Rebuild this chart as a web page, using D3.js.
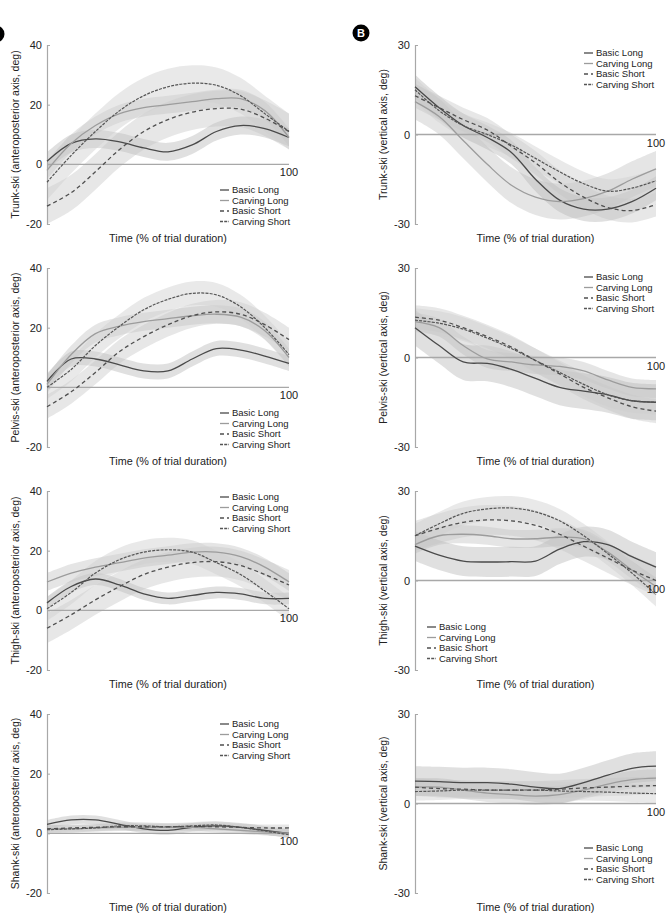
<!DOCTYPE html>
<html><head><meta charset="utf-8">
<script src="https://cdn.jsdelivr.net/npm/d3@7"></script>
<style>body{margin:0;background:#fff}svg{display:block}text{font-family:"Liberation Sans",Arial,sans-serif;fill:#222}</style>
</head><body>
<svg id="c" width="666" height="919"></svg>
<script>
const timePct = [0,10,20,30,40,50,60,70,80,90,100];
const seriesNames = ["Basic Long","Carving Long","Basic Short","Carving Short"];
const leftTicks = [-20,0,20,40];
const rightTicks = [-30,0,30];

// means per series (Basic Long, Carving Long, Basic Short, Carving Short)
const trunkAP = [
  [1,7,8.5,7.5,5.5,4.2,6.5,11,13,12,9],
  [-2,7,13,17,19,20,21,22,22,18,9],
  [-14,-9.5,-2.5,5,11,15,17.5,18.7,18.5,15.5,11],
  [-6,3,11,18,23,26,27.2,26.5,23,17,11]];
const trunkAPsd = [3,3,6,6];
const trunkV = [
  [16,9,3,-1,-6,-15,-22,-25,-25,-22.5,-18],
  [11,6,-2,-10,-17,-21,-22.5,-21.5,-19,-15,-11.5],
  [13,9,5,1.5,-4,-9.5,-16,-21,-24.5,-25.5,-23.5],
  [15,8,3,0,-3.5,-8,-12.5,-16.5,-19,-18,-15.5]];
const trunkVsd = [4,6,4,4];
const pelvisAP = [
  [2,9.5,9.5,7.5,5.5,5.5,9.5,13,12.5,10.5,8],
  [1,11,18,20.5,22,23,24,24.5,23.5,19,10],
  [-6.5,-1.5,5,12,17,21,24,25.3,24.5,21,16],
  [0,6,14,20.5,26,29.5,31.5,31,27,20,11]];
const pelvisAPsd = [2.5,3,4,4];
const pelvisV = [
  [10,4,-1.5,-2,-4,-7,-10,-11.3,-12.5,-14.5,-15],
  [12,10,4,-0.5,-1.5,-2.5,-3,-4.5,-7.5,-10,-10.5],
  [13.5,12.5,10,7,3.5,-1,-5.5,-10,-13.5,-16.5,-18],
  [12.5,11.5,9.5,6.5,3,-1,-5,-9,-12.5,-14.5,-15]];
const pelvisVsd = [6,3,4,4];
const thighAP = [
  [2.5,8,10.5,8.5,5.5,4,5,6,5.5,4,4],
  [9.5,12.5,14.5,16,17.5,18.5,19.5,19.5,18,14.5,9.5],
  [-6,-1.5,3.5,8,12,14.5,16,16.3,15,12,8.5],
  [0.5,6,12.5,17,19.5,20.3,19.5,16,12,6.5,0.5]];
const thighAPsd = [2,3,5,4];
const thighV = [
  [11.5,8.5,6.5,6.2,6.3,6.5,10.5,13,12,8,4.5],
  [12,15,15.5,15,14,14,14.5,14,9.5,3.5,-2],
  [15,17.5,19.5,20.3,20,18.5,15.5,11.5,7.5,3.5,0],
  [15,19,22.5,24,24.3,23,20,15,9,2.5,-4.7]];
const thighVsd = [5,3,5,4];
const shankAP = [
  [3,4.5,4.5,3,1.5,1,2,2.5,2,1,0],
  [1.5,1.5,1.8,2,2,2,2,1.5,1,0.5,0],
  [1.5,1.8,2,2.2,2.2,2.2,2.3,2.2,2,1.8,1.8],
  [1.2,1.5,1.8,2.5,2.5,2.2,2.5,2.8,2,0.8,-0.5]];
const shankAPsd = [1.5,1.2,1.2,1.2];
const shankV = [
  [7.5,7.3,7,7,6.5,5.5,5,7,9.5,11.8,12.5],
  [5.5,5.5,4.5,3.5,3,2.5,3,4.5,6.5,8,8.5],
  [5.5,5,4.8,4.5,4.5,4.5,4.8,5.2,5.5,5.8,6],
  [4,4.2,4.5,4.5,4.5,4.5,4.2,4,3.8,3.5,3.3]];
const shankVsd = [5,3,3,3];

const yLabels = ["Trunk-ski (anteroposterior axis, deg)","Trunk-ski (vertical axis, deg)",
  "Pelvis-ski (anteroposterior axis, deg)","Pelvis-ski (vertical axis, deg)",
  "Thigh-ski (anteroposterior axis, deg)","Thigh-ski (vertical axis, deg)",
  "Shank-ski (anteroposterior axis, deg)","Shank-ski (vertical axis, deg)"];
const xLabel = "Time (% of trial duration)";

const svg = d3.select("#c");
const rowTop = [45,268,491,714];
const H = 179;
const cols = [{x0:47,x1:289,dom:[-20,40],ticks:leftTicks,ylx:15},{x0:415,x1:656,dom:[-30,30],ticks:rightTicks,ylx:383}];
const data = [[trunkAP,trunkAPsd],[trunkV,trunkVsd],[pelvisAP,pelvisAPsd],[pelvisV,pelvisVsd],
  [thighAP,thighAPsd],[thighV,thighVsd],[shankAP,shankAPsd],[shankV,shankVsd]];
// legend anchor (line start x, first row y)
const legendPos = [[220,190],[584,53],[220,413],[584,277],[220,497],[427,627],[220,724],[584,848]];

const lineStyle = [
  {c:"#4a4a4a",d:null,w:1.3},
  {c:"#9c9c9c",d:null,w:1.3},
  {c:"#4f4f4f",d:"4,3",w:1.3},
  {c:"#555555",d:"3,1.2",w:1.2}];
const bandStyle = [
  {c:"#a0a0a0",o:0.33},
  {c:"#b4b4b4",o:0.35},
  {c:"#c4c4c4",o:0.4},
  {c:"#cfcfcf",o:0.45}];

data.forEach((d,i)=>{
  const col = cols[i%2], row = Math.floor(i/2);
  const top = rowTop[row], bot = top+H;
  const x = d3.scaleLinear().domain([0,100]).range([col.x0,col.x1]);
  const y = d3.scaleLinear().domain(col.dom).range([bot,top]);
  const g = svg.append("g");
  const [means, sds] = d;
  means.forEach((m,k)=>{
    const area = d3.area().curve(d3.curveCatmullRom.alpha(0.5))
      .x((v,j)=>x(timePct[j])).y0(v=>y(v-sds[k])).y1(v=>y(v+sds[k]));
    g.append("path").datum(m).attr("d",area).attr("fill",bandStyle[k].c).attr("fill-opacity",bandStyle[k].o);
  });
  g.append("line").attr("x1",x(0)).attr("x2",x(100)).attr("y1",y(0)).attr("y2",y(0))
    .attr("stroke","#a8a8a8").attr("stroke-width",1.3);
  const ax = g.append("g").attr("transform",`translate(${col.x0},0)`)
    .call(d3.axisLeft(y).tickValues(col.ticks).tickSize(-3).tickPadding(5).tickFormat(v=>String(v)));
  ax.select(".domain").attr("stroke","#a8a8a8").attr("stroke-width",1.2);
  ax.selectAll(".tick line").attr("stroke","#a8a8a8");
  ax.selectAll("text").style("font-size","11px").attr("fill","#222");
  means.forEach((m,k)=>{
    const ln = d3.line().curve(d3.curveCatmullRom.alpha(0.5)).x((v,j)=>x(timePct[j])).y(v=>y(v));
    g.append("path").datum(m).attr("d",ln).attr("fill","none").attr("stroke",lineStyle[k].c)
      .attr("stroke-width",lineStyle[k].w).attr("stroke-dasharray",lineStyle[k].d);
  });
  g.append("text").attr("x",x(100)).attr("y",y(0)+12).attr("text-anchor","middle").style("font-size","11px").text("100");
  g.append("text").attr("x",(col.x0+col.x1)/2).attr("y",bot+18).attr("text-anchor","middle").style("font-size","10.8px").text(xLabel);
  g.append("text").attr("transform",`translate(${col.ylx},${(top+bot)/2}) rotate(-90)`).attr("text-anchor","middle")
    .attr("dy","0.35em").style("font-size","10.5px").text(yLabels[i]);
  const [lx,ly] = legendPos[i];
  seriesNames.forEach((s,k)=>{
    const yy = ly + k*10.5;
    g.append("line").attr("x1",lx).attr("x2",lx+9).attr("y1",yy).attr("y2",yy)
      .attr("stroke",lineStyle[k].c).attr("stroke-width",1.3).attr("stroke-dasharray",lineStyle[k].d);
    g.append("text").attr("x",lx+12).attr("y",yy).attr("dy","0.35em").style("font-size","9.5px").attr("fill","#333").text(s);
  });
});

[["A",-4,34],["B",361,33]].forEach(([t,cx,cy])=>{
  svg.append("circle").attr("cx",cx).attr("cy",cy).attr("r",8.5).attr("fill","#000");
  svg.append("text").attr("x",cx).attr("y",cy).attr("dy","0.36em").attr("text-anchor","middle")
    .style("font-size","11px").style("font-weight","bold").style("fill","#fff").text(t);
});
</script>
</body></html>
